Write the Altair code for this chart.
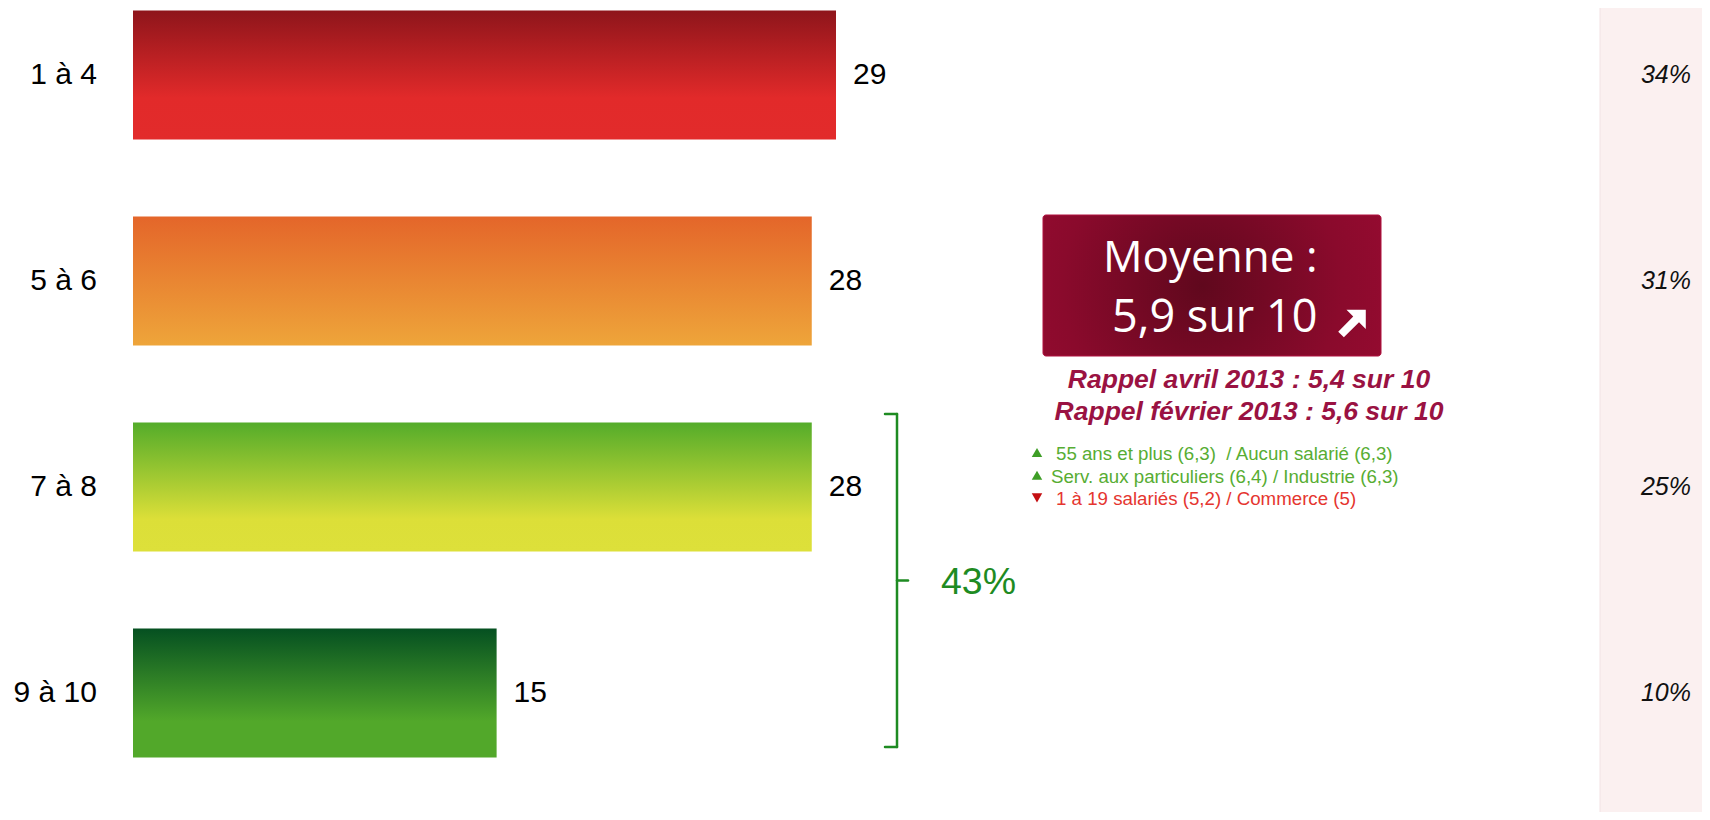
import altair as alt
import pandas as pd

# ---- data ----
categories = ["1 à 4", "5 à 6", "7 à 8", "9 à 10"]
counts = [29, 28, 28, 15]
shares = ["34%", "31%", "25%", "10%"]

box_title = "Moyenne :"
box_value = "5,9 sur 10"
rappels = ["Rappel avril 2013 : 5,4 sur 10", "Rappel février 2013 : 5,6 sur 10"]
sub_lines = [
    "55 ans et plus (6,3)\u00a0 / Aucun salarié (6,3)",
    "Serv. aux particuliers (6,4) / Industrie (6,3)",
    "1 à 19 salariés (5,2) / Commerce (5)",
]
sub_dirs = ["up", "up", "down"]
bracket_label = "43%"

# ---- styles ----
bar_gradients = [
    [("#8E151B", 0.0), ("#E22A2A", 0.68), ("#E22B2B", 1.0)],
    [("#E4662A", 0.0), ("#EEA53A", 1.0)],
    [("#54AC2A", 0.0), ("#DCDF38", 0.75), ("#DDE03A", 1.0)],
    [("#055021", 0.0), ("#52A82A", 0.72), ("#52A82A", 1.0)],
]
FONT = "Liberation Sans"
GREEN_BR = "#1E8B22"
MAROON = "#9A1242"

df = pd.DataFrame({"cat": categories, "value": counts, "share": shares})

xscale = alt.Scale(domain=[0, 29], range=[125, 828], nice=False, zero=True)
yscale = alt.Scale(domain=categories, range=[-36, 788], paddingInner=0.374, paddingOuter=0.187)

X = alt.X("value:Q", scale=xscale, axis=None)
Y = alt.Y("cat:N", scale=yscale, axis=None, sort=categories)

one = pd.DataFrame({"k": [0]})

layers = []

# pink side panel
layers.append(
    alt.Chart(one).mark_rect(fill="#FBF0F0", stroke="#F2E2E4", strokeWidth=1).encode(
        x=alt.value(1592), x2=alt.value(1710), y=alt.value(-5), y2=alt.value(810)
    )
)

# bars
for cat, stops in zip(categories, bar_gradients):
    grad = alt.LinearGradient(
        gradient="linear",
        stops=[alt.GradientStop(color=c, offset=o) for c, o in stops],
        x1=0, x2=0, y1=0, y2=1,
    )
    layers.append(
        alt.Chart(df).transform_filter(alt.datum.cat == cat)
        .mark_bar(fill=grad, strokeWidth=0)
        .encode(x=X, y=Y)
    )

# value labels
layers.append(
    alt.Chart(df).mark_text(align="left", baseline="middle", dx=17, font=FONT, fontSize=30, color="#000000")
    .encode(x=X, y=Y, text="value:Q")
)

# category labels
layers.append(
    alt.Chart(df).mark_text(align="right", baseline="middle", font=FONT, fontSize=30, color="#000000")
    .encode(x=alt.value(89), y=Y, text="cat:N")
)

# share labels on the right panel
layers.append(
    alt.Chart(df).mark_text(align="right", baseline="middle", font=FONT, fontSize=25, fontStyle="italic", color="#111111")
    .encode(x=alt.value(1683), y=Y, text="share:N")
)

# maroon box
box_grad = alt.RadialGradient(
    gradient="radial",
    stops=[alt.GradientStop(color="#60081D", offset=0.0),
           alt.GradientStop(color="#8A0A2C", offset=0.55),
           alt.GradientStop(color="#9F0B34", offset=1.0)],
    x1=0.47, y1=0.5, r1=0, x2=0.47, y2=0.5, r2=0.75,
)
layers.append(
    alt.Chart(one).mark_rect(fill=box_grad, cornerRadius=3, stroke="#B0103E", strokeWidth=1).encode(
        x=alt.value(1035), x2=alt.value(1373), y=alt.value(207), y2=alt.value(348)
    )
)
layers.append(
    alt.Chart(pd.DataFrame({"t": [box_title]})).mark_text(
        align="left", baseline="alphabetic", font="Open Sans", fontSize=44, color="white"
    ).encode(x=alt.value(1095), y=alt.value(264), text="t:N")
)
layers.append(
    alt.Chart(pd.DataFrame({"t": [box_value]})).mark_text(
        align="left", baseline="alphabetic", font="Open Sans", fontSize=45, color="white"
    ).encode(x=alt.value(1104), y=alt.value(324), text="t:N")
)
arrow_path = "M 1 -1 L 1 0.4 L 0.51 -0.09 L -0.59 1.0 L -1.0 0.59 L 0.09 -0.51 L -0.4 -1 Z"
layers.append(
    alt.Chart(one).mark_point(shape=arrow_path, filled=True, fill="white", opacity=1, size=760, strokeWidth=0)
    .encode(x=alt.value(1344), y=alt.value(315.5))
)

# rappel lines
for i, txt in enumerate(rappels):
    layers.append(
        alt.Chart(pd.DataFrame({"t": [txt]})).mark_text(
            align="center", baseline="alphabetic", font=FONT, fontSize=26.5,
            fontStyle="italic", fontWeight="bold", color=MAROON
        ).encode(x=alt.value(1241), y=alt.value(380 + 32 * i), text="t:N")
    )

# sub lines with triangles
text_x = [1048, 1043, 1048]
for i, (txt, d) in enumerate(zip(sub_lines, sub_dirs)):
    tcol = "#57AD33" if d == "up" else "#E5352F"
    mcol = "#3E9E26" if d == "up" else "#C40F12"
    layers.append(
        alt.Chart(pd.DataFrame({"t": [txt]})).mark_text(
            align="left", baseline="alphabetic", font=FONT, fontSize=18.7, color=tcol
        ).encode(x=alt.value(text_x[i]), y=alt.value(452 + 22.6 * i), text="t:N")
    )
    layers.append(
        alt.Chart(one).mark_point(
            shape="triangle-up" if d == "up" else "triangle-down",
            filled=True, fill=mcol, opacity=1, size=110, strokeWidth=0
        ).encode(x=alt.value(1029), y=alt.value(444.5 + 22.7 * i))
    )

# bracket
seg = dict(stroke=GREEN_BR, strokeWidth=2.5, strokeCap="round")
layers.append(alt.Chart(one).mark_rule(**seg).encode(x=alt.value(877), x2=alt.value(889), y=alt.value(406)))
layers.append(alt.Chart(one).mark_rule(**seg).encode(x=alt.value(889), y=alt.value(406), y2=alt.value(739)))
layers.append(alt.Chart(one).mark_rule(**seg).encode(x=alt.value(877), x2=alt.value(889), y=alt.value(739)))
layers.append(alt.Chart(one).mark_rule(**seg).encode(x=alt.value(889), x2=alt.value(900), y=alt.value(572.5)))
layers.append(
    alt.Chart(pd.DataFrame({"t": [bracket_label]})).mark_text(
        align="left", baseline="alphabetic", font=FONT, fontSize=37.5, color=GREEN_BR
    ).encode(x=alt.value(933), y=alt.value(586), text="t:N")
)

chart = (
    alt.layer(*layers)
    .properties(width=1694, height=804, autosize=alt.AutoSizeParams(type="none"), padding=0, background="white")
    .configure_view(stroke=None)
)

chart.save("out.html", embed_options={"renderer": "svg", "actions": False})
